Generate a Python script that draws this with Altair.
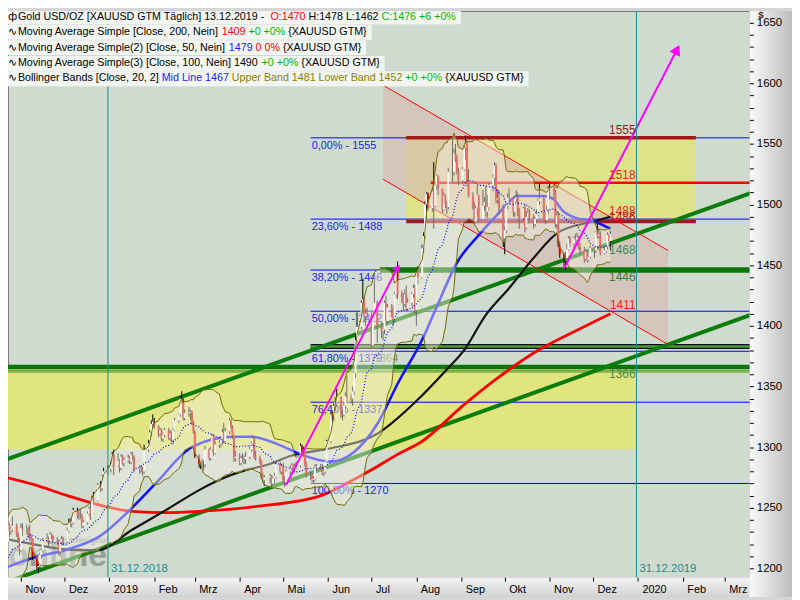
import altair as alt
import pandas as pd

FONT = "Liberation Sans"

# ---------------- daily candles (XAUUSD) ----------------
trade_days = {
    "2018-09": [20, 21, 24, 25, 26, 27, 28],
    "2018-10": [1, 2, 3, 4, 5, 8, 9, 10, 11, 12, 15, 16, 17, 18, 19, 22, 23, 24, 25, 26, 29, 30, 31],
    "2018-11": [1, 2, 5, 6, 7, 8, 9, 12, 13, 14, 15, 16, 19, 20, 21, 22, 23, 26, 27, 28, 29, 30],
    "2018-12": [3, 4, 5, 6, 7, 10, 11, 12, 13, 14, 17, 18, 19, 20, 21, 24, 26, 27, 28, 31],
    "2019-01": [2, 3, 4, 7, 8, 9, 10, 11, 14, 15, 16, 17, 18, 22, 23, 24, 25, 28, 29, 30, 31],
    "2019-02": [1, 4, 5, 6, 7, 8, 11, 12, 13, 14, 15, 18, 19, 20, 21, 22, 25, 26, 27, 28],
    "2019-03": [1, 4, 5, 6, 7, 8, 11, 12, 13, 14, 15, 18, 19, 20, 21, 22, 25, 26, 27, 28, 29],
    "2019-04": [1, 2, 3, 4, 5, 8, 9, 10, 11, 12, 15, 16, 17, 18, 22, 23, 24, 25, 26, 29, 30],
    "2019-05": [1, 2, 3, 6, 7, 8, 9, 10, 13, 14, 15, 16, 17, 20, 21, 22, 23, 24, 27, 28, 29, 30, 31],
    "2019-06": [3, 4, 5, 6, 7, 10, 11, 12, 13, 14, 17, 18, 19, 20, 21, 24, 25, 26, 27, 28],
    "2019-07": [1, 2, 3, 5, 8, 9, 10, 11, 12, 15, 16, 17, 18, 19, 22, 23, 24, 25, 26, 29, 30, 31],
    "2019-08": [1, 2, 5, 6, 7, 8, 9, 12, 13, 14, 15, 16, 19, 20, 21, 22, 23, 26, 27, 28, 29, 30],
    "2019-09": [2, 3, 4, 5, 6, 9, 10, 11, 12, 13, 16, 17, 18, 19, 20, 23, 24, 25, 26, 27, 30],
    "2019-10": [1, 2, 3, 4, 7, 8, 9, 10, 11, 14, 15, 16, 17, 18, 21, 22, 23, 24, 25, 28, 29, 30, 31],
    "2019-11": [1, 4, 5, 6, 7, 8, 11, 12, 13, 14, 15, 18, 19, 20, 21, 22, 25, 26, 27, 28, 29],
    "2019-12": [2, 3, 4, 5, 6, 9, 10, 11, 12, 13],
}

close = [
    1207, 1199, 1199, 1201, 1194, 1182, 1192,
    1189, 1204, 1202, 1199, 1203, 1188, 1190, 1194, 1227, 1221, 1232, 1226, 1223, 1227, 1227, 1222, 1236, 1231, 1232, 1235, 1228, 1223, 1215,
    1233, 1232, 1232, 1227, 1226, 1224, 1210, 1201, 1202, 1211, 1215, 1223, 1224, 1222, 1228, 1227, 1223, 1222, 1214, 1222, 1224, 1222,
    1231, 1238, 1237, 1238, 1248, 1244, 1244, 1243, 1235, 1238, 1245, 1249, 1242, 1258, 1256, 1269, 1266, 1276, 1280, 1282,
    1285, 1294, 1285, 1289, 1283, 1292, 1287, 1289, 1291, 1288, 1294, 1292, 1282, 1283, 1282, 1280, 1298, 1303, 1312, 1319, 1321,
    1317, 1311, 1314, 1307, 1310, 1314, 1308, 1311, 1306, 1314, 1322, 1327, 1340, 1339, 1324, 1328, 1328, 1329, 1320, 1313,
    1293, 1286, 1287, 1286, 1286, 1298, 1291, 1298, 1309, 1295, 1302, 1303, 1307, 1312, 1305, 1313, 1322, 1316, 1309, 1291, 1292,
    1287, 1291, 1291, 1290, 1292, 1298, 1303, 1307, 1292, 1291, 1288, 1276, 1273, 1275, 1276, 1270, 1274, 1276, 1286, 1280, 1284,
    1273, 1271, 1280, 1282, 1285, 1281, 1284, 1285, 1301, 1296, 1297, 1286, 1277, 1277, 1273, 1274, 1283, 1284, 1284, 1279, 1280, 1288, 1305,
    1327, 1325, 1334, 1337, 1341, 1327, 1327, 1334, 1342, 1341, 1340, 1346, 1361, 1388, 1399, 1419, 1422, 1408, 1410, 1409,
    1384, 1411, 1419, 1400, 1396, 1397, 1419, 1404, 1415, 1413, 1405, 1426, 1445, 1426, 1424, 1418, 1426, 1414, 1419, 1426, 1431, 1413,
    1444, 1440, 1464, 1474, 1500, 1509, 1497, 1511, 1499, 1516, 1524, 1513, 1496, 1507, 1501, 1498, 1527, 1527, 1542, 1538, 1527, 1520,
    1529, 1547, 1550, 1519, 1507, 1499, 1486, 1497, 1508, 1488, 1499, 1502, 1494, 1498, 1516, 1522, 1532, 1504, 1505, 1497, 1472,
    1479, 1499, 1506, 1505, 1494, 1505, 1506, 1494, 1489, 1497, 1481, 1490, 1493, 1490, 1484, 1488, 1492, 1503, 1505, 1492, 1487, 1496, 1513,
    1514, 1510, 1484, 1491, 1467, 1459, 1456, 1456, 1463, 1472, 1468, 1472, 1471, 1473, 1465, 1462, 1455, 1461, 1454, 1457, 1464,
    1462, 1477, 1474, 1475, 1460, 1462, 1465, 1475, 1470, 1476,
]
high = [
    1211, 1212, 1203, 1204, 1204, 1195, 1193,
    1195, 1207, 1206, 1204, 1207, 1204, 1192, 1196, 1228, 1229, 1234, 1233, 1228, 1231, 1230, 1229, 1239, 1237, 1234, 1243, 1237, 1230, 1225,
    1237, 1237, 1236, 1234, 1236, 1228, 1225, 1212, 1204, 1213, 1217, 1225, 1229, 1226, 1230, 1229, 1227, 1226, 1224, 1224, 1227, 1226,
    1234, 1241, 1241, 1242, 1250, 1250, 1248, 1249, 1245, 1240, 1247, 1251, 1255, 1260, 1263, 1270, 1272, 1277, 1283, 1285,
    1288, 1296, 1298, 1295, 1290, 1294, 1294, 1292, 1294, 1293, 1296, 1296, 1293, 1285, 1285, 1284, 1302, 1306, 1314, 1322, 1327,
    1324, 1318, 1316, 1315, 1312, 1316, 1316, 1314, 1313, 1316, 1324, 1328, 1342, 1346, 1340, 1331, 1333, 1331, 1330, 1322,
    1314, 1294, 1288, 1290, 1289, 1301, 1299, 1300, 1311, 1310, 1305, 1306, 1309, 1315, 1320, 1316, 1324, 1323, 1318, 1310, 1297,
    1295, 1293, 1295, 1293, 1296, 1301, 1305, 1310, 1309, 1297, 1293, 1289, 1279, 1277, 1278, 1277, 1276, 1279, 1289, 1288, 1286,
    1287, 1276, 1282, 1285, 1287, 1286, 1287, 1288, 1303, 1302, 1300, 1298, 1288, 1280, 1279, 1276, 1286, 1286, 1286, 1286, 1284, 1290, 1306,
    1329, 1330, 1336, 1341, 1348, 1342, 1331, 1337, 1345, 1359, 1344, 1350, 1362, 1393, 1411, 1421, 1439, 1424, 1414, 1415,
    1411, 1413, 1437, 1421, 1403, 1402, 1421, 1425, 1418, 1418, 1417, 1428, 1448, 1453, 1429, 1427, 1430, 1433, 1423, 1428, 1434, 1434,
    1446, 1449, 1467, 1477, 1503, 1510, 1510, 1513, 1535, 1518, 1525, 1524, 1513, 1510, 1508, 1503, 1530, 1555, 1546, 1550, 1541, 1530,
    1531, 1549, 1557, 1552, 1529, 1510, 1502, 1499, 1516, 1507, 1512, 1506, 1515, 1508, 1518, 1525, 1535, 1534, 1513, 1512, 1500,
    1482, 1501, 1509, 1514, 1506, 1508, 1512, 1510, 1497, 1498, 1500, 1494, 1497, 1496, 1492, 1490, 1496, 1505, 1518, 1507, 1494, 1499, 1515,
    1517, 1514, 1512, 1494, 1494, 1470, 1461, 1461, 1468, 1474, 1474, 1474, 1476, 1477, 1474, 1468, 1465, 1463, 1463, 1458, 1466,
    1465, 1478, 1484, 1480, 1478, 1465, 1467, 1477, 1476, 1478,
]
low = [
    1200, 1195, 1192, 1195, 1190, 1180, 1181,
    1185, 1187, 1197, 1196, 1193, 1183, 1184, 1185, 1193, 1215, 1218, 1223, 1220, 1221, 1222, 1220, 1221, 1226, 1228, 1230, 1226, 1221, 1211,
    1214, 1227, 1228, 1225, 1223, 1221, 1207, 1199, 1196, 1200, 1208, 1213, 1221, 1218, 1220, 1224, 1221, 1219, 1211, 1210, 1219, 1219,
    1221, 1229, 1234, 1234, 1236, 1241, 1240, 1241, 1233, 1233, 1236, 1243, 1240, 1242, 1254, 1255, 1263, 1264, 1275, 1277,
    1279, 1284, 1277, 1285, 1279, 1281, 1285, 1284, 1287, 1286, 1286, 1289, 1279, 1278, 1279, 1276, 1278, 1296, 1302, 1309, 1316,
    1315, 1308, 1309, 1305, 1304, 1308, 1306, 1305, 1304, 1302, 1313, 1320, 1325, 1336, 1322, 1322, 1325, 1322, 1318, 1311,
    1291, 1283, 1282, 1283, 1281, 1283, 1289, 1289, 1296, 1293, 1294, 1299, 1300, 1302, 1303, 1304, 1311, 1313, 1307, 1288, 1288,
    1285, 1285, 1287, 1286, 1286, 1290, 1296, 1301, 1290, 1289, 1286, 1274, 1271, 1268, 1270, 1266, 1268, 1270, 1274, 1278, 1277,
    1271, 1267, 1269, 1277, 1280, 1279, 1279, 1282, 1283, 1294, 1292, 1284, 1275, 1273, 1271, 1270, 1272, 1280, 1281, 1277, 1276, 1278, 1287,
    1303, 1320, 1322, 1330, 1333, 1324, 1322, 1325, 1332, 1337, 1336, 1334, 1343, 1357, 1386, 1397, 1410, 1403, 1400, 1406,
    1382, 1383, 1410, 1386, 1390, 1388, 1393, 1400, 1402, 1407, 1400, 1403, 1423, 1422, 1419, 1412, 1416, 1412, 1412, 1416, 1423, 1410,
    1400, 1434, 1439, 1460, 1472, 1488, 1495, 1494, 1480, 1498, 1512, 1508, 1493, 1495, 1497, 1492, 1496, 1518, 1524, 1535, 1525, 1516,
    1518, 1528, 1537, 1515, 1506, 1496, 1484, 1485, 1490, 1486, 1495, 1495, 1490, 1489, 1495, 1511, 1516, 1501, 1501, 1492, 1465,
    1459, 1476, 1496, 1500, 1490, 1490, 1502, 1490, 1480, 1486, 1477, 1480, 1484, 1487, 1480, 1482, 1485, 1490, 1500, 1488, 1484, 1485, 1492,
    1504, 1505, 1481, 1480, 1465, 1456, 1449, 1446, 1453, 1462, 1465, 1464, 1468, 1466, 1463, 1459, 1452, 1454, 1452, 1453, 1455,
    1456, 1460, 1472, 1472, 1458, 1459, 1460, 1463, 1465, 1462,
]
dates = [f"{m}-{d:02d}" for m, days in trade_days.items() for d in days]
assert len(dates) == len(close) == len(high) == len(low), (len(dates), len(close), len(high), len(low))

# ---------------- moving averages ----------------
sma200_dates = ["2018-10-18", "2018-11-10", "2018-12-03", "2018-12-26", "2019-01-17", "2019-02-09",
                "2019-03-04", "2019-04-12", "2019-05-27", "2019-06-20", "2019-07-05", "2019-07-19",
                "2019-08-04", "2019-09-03", "2019-09-25", "2019-10-23", "2019-11-21", "2019-12-13"]
sma200_vals = [1276, 1269, 1260, 1252, 1247, 1246, 1247, 1251, 1260, 1274, 1284, 1294,
               1304, 1335, 1356, 1379, 1397, 1410]

sma100_dates = ["2018-10-18", "2018-11-09", "2018-12-03", "2018-12-24", "2019-01-17", "2019-02-09",
                "2019-03-04", "2019-03-18", "2019-04-05", "2019-04-19", "2019-05-07", "2019-06-03",
                "2019-07-05", "2019-08-01", "2019-08-22", "2019-09-03", "2019-09-18", "2019-10-04",
                "2019-10-21", "2019-11-07", "2019-12-01", "2019-12-13"]
sma100_vals = [1225, 1220, 1215.5, 1215, 1232, 1248, 1264.5, 1273, 1281, 1285, 1293, 1299,
               1311, 1338, 1364, 1380, 1409, 1431, 1456, 1477, 1486, 1490]

sma50_dates = ["2018-10-18", "2018-11-10", "2018-12-03", "2018-12-26", "2019-01-15", "2019-02-02",
               "2019-02-27", "2019-03-27", "2019-04-09", "2019-04-30", "2019-05-11", "2019-06-03",
               "2019-06-19", "2019-07-05", "2019-07-19", "2019-08-06", "2019-08-15", "2019-08-29",
               "2019-09-14", "2019-09-25", "2019-10-11", "2019-10-28", "2019-11-03", "2019-11-10",
               "2019-11-19", "2019-12-01", "2019-12-13"]
sma50_vals = [1199, 1209, 1215.5, 1227, 1248, 1270, 1300, 1308.5, 1308.5, 1301, 1295, 1288,
              1296, 1319, 1352, 1391, 1415.5, 1452, 1476, 1490.5, 1507, 1507, 1505, 1495,
              1489, 1486.5, 1480]

# ---------------- drawing tools ----------------
zone_lower = [1298, 1366]
zone_lower_dates = ["2018-10-01", "2019-12-31"]
zone_upper = [1486, 1555]
zone_upper_dates = ["2019-07-25", "2020-02-10"]

fib_levels = [1555, 1488, 1446, 1412, 1379, 1337, 1270]
fib_labels = ["0,00% - 1555", "23,60% - 1488", "38,20% - 1446", "50,00% - 1412",
              "61,80% - 1379", "76,40% - 1337", "100,00% - 1270"]
fib_dates = ["2019-05-20", "2020-03-31"]

support_1446 = 1446
support_1446_from = "2019-07-07"
support_1366 = 1366
support_1366_band = 1362.5
support_1383 = 1383
support_1383_from = "2019-05-20"
resist_1518 = 1518
resist_1518_from = "2019-08-11"

channel_dates = ["2019-07-09", "2020-01-22"]
channel_upper = [1598.4, 1462.0]
channel_lower = [1520.8, 1384.5]

trend_dates = ["2018-10-18", "2020-03-19"]
trend_upper = [1288.2, 1509.4]
trend_lower = [1186.9, 1409.0]

arrow1_dates = ["2019-05-03", "2019-07-19"]
arrow1_vals = [1268.6, 1448.0]
arrow2_dates = ["2019-11-11", "2020-01-28"]
arrow2_vals = [1447.3, 1627.8]

marker_dates = ["2018-12-31", "2019-12-31"]
marker_labels = ["31.12.2018", "31.12.2019"]

right_label_text = ["1555", "1518", "1488", "1486", "1468", "1446", "1411", "1366"]
right_label_vals = [1555, 1518, 1488, 1486, 1468.6, 1446, 1411, 1366]
right_label_colors = ["#8E1B1B", "#F21C1C", "#F21C1C", "#B81818", "#3C8C5A", "#3C7A3C", "#F21C1C", "#4A8A4A"]
right_label_dy = [-8, -8, -8, -5, 7, 7, -8, 7]

y_ticks = list(range(1200, 1651, 10))
month_ticks = [(2018, 11), (2018, 12), (2019, 1), (2019, 2), (2019, 3), (2019, 4), (2019, 5),
               (2019, 6), (2019, 7), (2019, 8), (2019, 9), (2019, 10), (2019, 11), (2019, 12),
               (2020, 1), (2020, 2), (2020, 3)]

# header legend rows: (text, colour)
legend_rows = [
    [("Gold USD/OZ [XAUUSD GTM  Täglich] 13.12.2019 -", "#000000"), ("O:1470", "#FF0000"),
     ("H:1478 L:1462", "#000000"), ("C:1476 +6 +0%", "#00B800")],
    [("Moving Average Simple [Close, 200, Nein]", "#000000"), ("1409", "#FF0000"),
     ("+0 +0%", "#00B800"), ("{XAUUSD GTM}", "#000000")],
    [("Moving Average Simple(2) [Close, 50, Nein]", "#000000"), ("1479", "#2020FF"),
     ("0 0%", "#FF0000"), ("{XAUUSD GTM}", "#000000")],
    [("Moving Average Simple(3) [Close, 100, Nein] 1490", "#000000"), ("+0 +0%", "#00B800"),
     ("{XAUUSD GTM}", "#000000")],
    [("Bollinger Bands [Close, 20, 2]", "#000000"), ("Mid Line 1467", "#2020FF"),
     ("Upper Band 1481 Lower Band 1452", "#8B7D00"), ("+0 +0%", "#00B800"),
     ("{XAUUSD GTM}", "#000000")],
]

# ---------------- scales & axes ----------------
W, H = 749, 572
xscale = alt.Scale(type="utc", nice=False,
                   domain=[alt.DateTime(year=2018, month=10, date=23, utc=True),
                           alt.DateTime(year=2020, month=3, date=18, utc=True)])
yscale = alt.Scale(domain=[1192.7, 1659.6], nice=False, zero=False)

xaxis = alt.Axis(
    values=[alt.DateTime(year=y, month=m, date=1, utc=True) for y, m in month_ticks],
    labelExpr="utcmonth(datum.value) == 0 ? utcFormat(datum.value, '%Y') : "
              "['','Feb','Mrz','Apr','Mai','Jun','Jul','Aug','Sep','Okt','Nov','Dez'][utcmonth(datum.value)]",
    tickSize=4, tickColor="#000000", labelColor="#000000", labelFont=FONT, labelFontSize=11,
    labelAlign="left", labelOffset=4, labelPadding=2, domain=False, grid=False, title=None,
    zindex=1, labelFlush=False, labelOverlap=False)
yaxis = alt.Axis(
    orient="right", values=y_ticks,
    labelExpr="datum.value % 50 == 0 ? format(datum.value, 'd') : ''",
    tickSize=4, tickColor="#000000", labelColor="#000000", labelFont=FONT, labelFontSize=11.5,
    labelPadding=3, domain=False, grid=False, title=None, zindex=1, labelOverlap=False)


def X(f):
    return alt.X(f, type="temporal", scale=xscale, axis=xaxis)


def Y(f):
    return alt.Y(f, type="quantitative", scale=yscale, axis=yaxis)


# Arial / Liberation Sans advance widths (per 1000 em) for laying out the header text
_W = {" ": 278, "+": 584, "%": 889, ",": 278, ".": 278, "-": 333, "/": 278, ":": 278, "[": 278,
      "]": 278, "{": 334, "}": 334, "(": 333, ")": 333, "ä": 556}
for ch_ in "0123456789":
    _W[ch_] = 556
_W.update({"A": 667, "B": 667, "C": 722, "D": 722, "E": 667, "F": 611, "G": 778, "H": 722, "I": 278,
           "L": 556, "M": 833, "N": 722, "O": 778, "S": 667, "T": 611, "U": 722, "X": 667, "Z": 611})
_W.update({"a": 556, "b": 556, "c": 500, "d": 556, "e": 556, "g": 556, "h": 556, "i": 222, "l": 222,
           "m": 833, "n": 556, "o": 556, "p": 556, "r": 333, "s": 500, "t": 278, "u": 556, "v": 500,
           "w": 722, "y": 500})


def text_width(s, size):
    return sum(_W.get(c, 556) for c in s) * size / 1000.0


dummy = pd.DataFrame({"a": [0]})
layers = []

# axis bands (gradient backgrounds)
layers.append(alt.Chart(dummy).mark_rect(
    color=alt.LinearGradient(gradient="linear", x1=0, x2=0, y1=0, y2=1,
                             stops=[alt.GradientStop(color="#F4F4F4", offset=0),
                                    alt.GradientStop(color="#D2D2D2", offset=1)])
).encode(x=alt.value(0), x2=alt.value(W), y=alt.value(H), y2=alt.value(H + 20)))
layers.append(alt.Chart(dummy).mark_rect(
    color=alt.LinearGradient(gradient="linear", x1=0, x2=1, y1=0, y2=0,
                             stops=[alt.GradientStop(color="#FAFAFA", offset=0),
                                    alt.GradientStop(color="#BDBDBD", offset=1)])
).encode(x=alt.value(W), x2=alt.value(W + 43), y=alt.value(0), y2=alt.value(H + 20)))

# yellow zones
zl = pd.DataFrame({"d0": [zone_lower_dates[0]], "d1": [zone_lower_dates[1]],
                   "p0": [zone_lower[0]], "p1": [zone_lower[1]]})
layers.append(alt.Chart(zl).mark_rect(color="#E1E57F", clip=True).encode(
    x=X("d0"), x2="d1", y=Y("p0"), y2="p1"))
zu = pd.DataFrame({"d0": [zone_upper_dates[0]], "d1": [zone_upper_dates[1]],
                   "p0": [zone_upper[0]], "p1": [zone_upper[1]]})
layers.append(alt.Chart(zu).mark_rect(color="#DEE288", clip=True).encode(
    x=X("d0"), x2="d1", y=Y("p0"), y2="p1"))

# watermark
layers.append(alt.Chart(dummy).mark_text(text="online", font=FONT, fontSize=34, fontWeight="bold",
                                         color="#7F877F", opacity=0.7, align="left", baseline="middle")
              .encode(x=alt.value(0), y=alt.value(551)))
layers.append(alt.Chart(dummy).mark_text(text="Tradesignal", font=FONT, fontSize=9, fontWeight="bold",
                                         color="#7F877F", opacity=0.7, align="left", baseline="middle")
              .encode(x=alt.value(52), y=alt.value(534)))

# pink descending channel
ch = pd.DataFrame({"d": channel_dates, "up": channel_upper, "lo": channel_lower})
layers.append(alt.Chart(ch).mark_area(color="#D7B9B1", opacity=0.62, clip=True).encode(
    x=X("d"), y=Y("up"), y2="lo"))

# fibonacci lines
fib = pd.DataFrame({"v": fib_levels, "t": fib_labels, "d0": fib_dates[0], "d1": fib_dates[1]})
layers.append(alt.Chart(fib).mark_rule(color="#0000FF", strokeWidth=1, clip=True).encode(
    x=X("d0"), x2="d1", y=Y("v")))


def hline(v, d0, d1, color, width):
    df = pd.DataFrame({"d0": [d0], "d1": [d1], "v": [v]})
    return alt.Chart(df).mark_rule(color=color, strokeWidth=width, clip=True).encode(
        x=X("d0"), x2="d1", y=Y("v"))


end_date = "2020-03-31"
layers.append(hline(support_1366_band, "2018-10-01", end_date, "#7DB24A", 3))
layers.append(hline(support_1366, "2018-10-01", end_date, "#0A760A", 4.5))
layers.append(hline(support_1446, support_1446_from, end_date, "#0A760A", 5.5))
layers.append(hline(support_1383, support_1383_from, end_date, "#101010", 5))
layers.append(hline(support_1383, support_1383_from, end_date, "#4E9A3A", 2.5))
layers.append(hline(resist_1518, resist_1518_from, end_date, "#FF0000", 2.5))
for v in zone_upper:
    layers.append(hline(v, zone_upper_dates[0], zone_upper_dates[1], "#A31919", 3.5))

# green ascending trend channel
tr = pd.DataFrame({"d": trend_dates * 2, "v": trend_upper + trend_lower,
                   "k": ["u", "u", "l", "l"]})
layers.append(alt.Chart(tr).mark_line(color="#0B7D0B", strokeWidth=4, clip=True).encode(
    x=X("d"), y=Y("v"), detail="k:N"))

# red descending channel lines
chl = pd.DataFrame({"d": channel_dates * 2, "v": channel_upper + channel_lower,
                    "k": ["u", "u", "l", "l"]})
layers.append(alt.Chart(chl).mark_line(color="#FF0000", strokeWidth=1, clip=True).encode(
    x=X("d"), y=Y("v"), detail="k:N"))

# moving averages
for ds, vs, col, sw in [(sma200_dates, sma200_vals, "#FF0000", 2.8),
                        (sma100_dates, sma100_vals, "#111111", 2.2),
                        (sma50_dates, sma50_vals, "#1010FF", 2.6)]:
    df = pd.DataFrame({"d": ds, "v": vs})
    layers.append(alt.Chart(df).mark_line(color=col, strokeWidth=sw, interpolate="monotone",
                                          clip=True).encode(x=X("d"), y=Y("v")))

# fibonacci labels
layers.append(alt.Chart(fib).mark_text(color="#1E1EE6", font=FONT, fontSize=11, align="left",
                                       baseline="top", dx=1, dy=2).encode(
    x=X("d0"), y=Y("v"), text="t:N"))
f618 = pd.DataFrame({"d": [fib_dates[0]], "v": [fib_levels[4]], "t": ["1364"]})
layers.append(alt.Chart(f618).mark_text(color="#6E8E6E", font=FONT, fontSize=11, align="left",
                                        baseline="top", dx=64, dy=2).encode(
    x=X("d"), y=Y("v"), text="t:N"))

# candles
cdf = pd.DataFrame({"date": dates, "close": close, "high": high, "low": low})
cbase = alt.Chart(cdf).transform_window(
    prev="lag(close)", sort=[alt.SortField("date", order="ascending")]
).transform_calculate(
    open_="isValid(datum.prev) ? datum.prev : datum.close",
    dir_="datum.close >= datum.open_ ? 'up' : 'down'")
layers.append(cbase.mark_rule(color="#000000", strokeWidth=1, clip=True).encode(
    x=X("date"), y=Y("low"), y2="high"))
layers.append(cbase.mark_rule(strokeWidth=2, clip=True).encode(
    x=X("date"), y=Y("open_"), y2="close",
    color=alt.Color("dir_:N", scale=alt.Scale(domain=["up", "down"], range=["#FFFFFF", "#E00000"]),
                    legend=None)))

# Bollinger bands (20, 2)
bb = alt.Chart(cdf).transform_window(
    bb_mid="mean(close)", bb_sd="stdevp(close)", frame=[-19, 0],
    sort=[alt.SortField("date", order="ascending")]
).transform_calculate(upper="datum.bb_mid + 2 * datum.bb_sd", lower="datum.bb_mid - 2 * datum.bb_sd")
layers.append(bb.mark_area(color="#F5F0E1", opacity=0.45, clip=True).encode(
    x=X("date"), y=Y("lower"), y2="upper"))
layers.append(bb.mark_line(color="#6E6A00", strokeWidth=1, clip=True).encode(x=X("date"), y=Y("upper")))
layers.append(bb.mark_line(color="#6E6A00", strokeWidth=1, clip=True).encode(x=X("date"), y=Y("lower")))
layers.append(bb.mark_line(color="#0000FF", strokeWidth=1.2, strokeDash=[1, 2], clip=True).encode(
    x=X("date"), y=Y("bb_mid")))

# magenta arrows
for ds, vs, sz in [(arrow1_dates, arrow1_vals, 70), (arrow2_dates, arrow2_vals, 140)]:
    df = pd.DataFrame({"d": ds, "v": vs})
    layers.append(alt.Chart(df).mark_line(color="#FF00FF", strokeWidth=2, clip=True).encode(
        x=X("d"), y=Y("v")))
    head = pd.DataFrame({"d": [ds[1]], "v": [vs[1]]})
    layers.append(alt.Chart(head).mark_point(shape="triangle-up", filled=True, color="#FF00FF",
                                             size=sz, angle=27, opacity=1).encode(
        x=X("d"), y=Y("v")))

# year-end markers
mk = pd.DataFrame({"d": marker_dates, "t": marker_labels})
layers.append(alt.Chart(mk).mark_rule(color="#1E8C8C", strokeWidth=1).encode(
    x=X("d"), y=alt.value(0), y2=alt.value(H)))
layers.append(alt.Chart(mk).mark_text(color="#1E8C8C", font=FONT, fontSize=11.5, align="left",
                                      baseline="middle", dx=3).encode(
    x=X("d"), y=alt.value(H - 8), text="t:N"))

# right side level labels
for t, v, c, dy in zip(right_label_text, right_label_vals, right_label_colors, right_label_dy):
    df = pd.DataFrame({"d": [marker_dates[1]], "v": [v], "t": [t]})
    layers.append(alt.Chart(df).mark_text(color=c, font=FONT, fontSize=12, align="right",
                                          baseline="middle", dx=-1, dy=dy).encode(
        x=X("d"), y=Y("v"), text="t:N"))

# header legend (segments laid out one after another)
LEG_SIZE = 10.8
row_y = [6, 21, 37, 53, 68]
row_top = [0, 14, 29.5, 45.5, 61]
row_bottom = [13.5, 29, 44.5, 60.5, 76]
for i, (row, y) in enumerate(zip(legend_rows, row_y)):
    x = 10.0
    placed = []
    for (t, c) in row:
        placed.append((t, x, c))
        x += text_width(t, LEG_SIZE) + text_width(" ", LEG_SIZE)
    layers.append(alt.Chart(dummy).mark_rect(color="#F2F5F2").encode(
        x=alt.value(0), x2=alt.value(x + 2), y=alt.value(row_top[i]), y2=alt.value(row_bottom[i])))
    icon = "ф" if i == 0 else "∿"
    layers.append(alt.Chart(dummy).mark_text(text=icon, font="DejaVu Sans", fontSize=11, color="#000000",
                                             align="left", baseline="middle").encode(
        x=alt.value(0), y=alt.value(y)))
    for (t, px, c) in placed:
        layers.append(alt.Chart(dummy).mark_text(text=t, font=FONT, fontSize=LEG_SIZE, color=c,
                                                 align="left", baseline="middle").encode(
            x=alt.value(px), y=alt.value(y)))

# currency symbol
layers.append(alt.Chart(dummy).mark_text(text="$", font=FONT, fontSize=10, fontWeight="bold",
                                         color="#303030", align="left", baseline="middle").encode(
    x=alt.value(W + 9), y=alt.value(4)))

chart = alt.layer(*layers).properties(
    width=W, height=H,
    autosize=alt.AutoSizeParams(type="none"),
    padding={"left": 0, "top": 0, "right": 43, "bottom": 20},
    background="#D6D6D6",
).configure_view(fill="#CFDBCF", stroke="#7A7A7A", strokeWidth=1)

chart.save("out.html", embed_options={"renderer": "svg", "actions": False})
